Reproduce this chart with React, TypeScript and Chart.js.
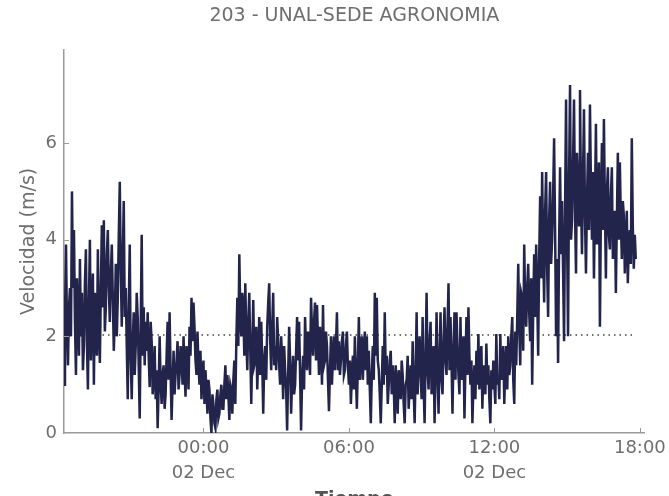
import React, { useEffect, useRef } from "react";
import { Chart, registerables } from "chart.js";

Chart.register(...registerables);

const TITLE = "203 - UNAL-SEDE AGRONOMIA";
const Y_LABEL = "Velocidad (m/s)";
const X_LABEL = "Tiempo";

// time of first sample, minutes relative to 02 Dec 00:00, and sampling step (minutes)
const START_MIN = -345;
const STEP_MIN = 2.465;

const SPEED = [
  1.0, 2.4, 3.9, 2.2, 1.4, 2.6, 3.0, 2.0, 5.0, 3.0, 4.2, 2.3, 1.2, 3.2, 2.4, 1.6, 3.6, 2.0, 2.9, 1.3,
  1.8, 3.1, 3.8, 1.9, 0.9, 2.7, 4.0, 1.5, 2.5, 3.3, 1.0, 2.9, 2.2, 1.6, 3.8, 2.2, 1.45, 3.0, 4.3, 2.6,
  4.4, 2.1, 2.6, 3.7, 4.2, 3.0, 2.3, 3.3, 3.9, 2.8, 1.7, 2.4, 3.5, 2.0, 2.8, 4.1, 5.2, 3.4, 2.2, 3.6,
  4.8, 2.4, 3.0, 1.8, 0.7, 2.6, 3.9, 1.5, 0.7, 1.9, 2.5, 1.2, 1.8, 2.9, 2.4, 1.4, 0.3, 2.2, 4.1, 1.6,
  2.6, 1.4, 2.3, 1.7, 2.5, 1.6, 0.95, 2.3, 1.9, 0.8, 1.2, 1.8, 0.7, 1.3, 0.1, 0.9, 2.0, 1.1, 0.6, 1.2,
  1.4, 0.5, 0.8, 1.6, 2.3, 1.1, 2.5, 1.3, 0.27, 1.0, 1.7, 0.8, 1.2, 1.5, 1.9, 0.9, 1.2, 1.8, 1.6, 1.0,
  2.0, 1.3, 0.75, 1.8, 1.5, 0.9, 2.2, 1.6, 2.8, 1.9, 2.7, 2.2, 1.5, 1.2, 2.1, 1.4, 1.0, 1.7, 0.7, 1.2,
  1.5, 0.6, 1.3, 0.9, 0.4, 1.1, 0.9, 0.3, 0.0, 0.8, 0.6, 0.2, 0.1, 0.7, 0.9, 0.3, 0.4, 0.8, 1.0, 0.5,
  0.5, 1.0, 1.4, 0.7, 1.2, 0.8, 0.27, 1.0, 0.9, 0.4, 1.1, 1.5, 0.6, 1.9, 2.8, 1.8, 3.7, 2.4, 2.0, 2.9,
  2.6, 1.6, 3.1, 2.0, 1.3, 2.3, 2.9, 1.7, 0.6, 1.8, 2.75, 1.4, 1.5, 2.2, 0.9, 1.6, 2.4, 1.2, 2.3, 1.5,
  0.4, 1.5, 1.8, 1.1, 2.2, 2.7, 3.1, 1.9, 1.3, 2.2, 2.9, 1.4, 1.8, 1.3, 2.4, 1.9, 1.4, 1.0, 2.0, 1.5,
  0.7, 1.8, 1.3, 0.9, 0.05, 1.2, 2.2, 1.5, 0.4, 1.1, 1.6, 0.8, 1.0, 1.7, 2.4, 1.5, 2.3, 1.2, 0.05, 1.1,
  1.6, 0.9, 2.4, 1.7, 1.3, 2.1, 1.8, 1.2, 2.8, 2.1, 1.6, 2.3, 2.7, 1.5, 2.65, 1.9, 1.2, 2.2, 1.8, 1.0,
  2.65, 1.4, 1.5, 2.1, 1.8, 1.1, 0.45, 1.3, 2.0, 1.0, 1.6, 2.0, 1.3, 1.8, 2.5, 1.3, 1.9, 1.2, 1.5, 1.9,
  2.1, 1.2, 1.3, 1.8, 2.1, 1.4, 1.0, 1.5, 0.6, 1.2, 1.6, 0.9, 2.0, 1.2, 0.5, 1.4, 2.4, 1.1, 1.6, 2.0,
  1.1, 1.7, 2.1, 1.3, 2.0, 1.0, 1.7, 0.9, 0.2, 1.2, 1.8, 1.1, 2.9, 1.6, 2.8, 1.5, 1.3, 0.8, 0.2, 1.0,
  1.8, 1.0, 2.5, 1.2, 1.6, 0.6, 1.0, 1.5, 1.7, 0.8, 1.4, 1.0, 0.2, 1.4, 0.9, 0.4, 1.3, 1.0, 0.7, 1.5,
  1.2, 0.6, 0.2, 1.0, 1.1, 1.6, 0.5, 1.0, 1.4, 0.7, 1.9, 0.9, 0.2, 1.3, 2.5, 0.8, 1.5, 2.0, 1.2, 0.7,
  2.4, 1.0, 0.2, 1.6, 2.9, 1.3, 0.9, 1.9, 2.3, 0.8, 1.4, 1.8, 0.2, 1.2, 2.5, 1.3, 0.4, 1.6, 2.5, 1.1,
  0.8, 1.9, 2.6, 1.5, 1.2, 2.2, 3.1, 1.3, 2.4, 1.5, 0.4, 1.7, 2.5, 1.1, 2.5, 1.8, 1.2, 0.8, 2.4, 1.1,
  1.5, 2.0, 0.3, 1.4, 2.4, 1.2, 2.6, 1.6, 1.0, 1.5, 0.2, 1.0, 1.4, 0.7, 1.7, 1.0, 2.05, 0.9, 1.5, 1.8,
  0.5, 1.4, 1.2, 0.8, 1.85, 1.0, 1.4, 0.7, 0.2, 1.3, 0.9, 1.5, 1.0, 0.6, 2.05, 1.0, 1.2, 0.7, 2.05, 1.1,
  1.3, 1.8, 0.6, 1.4, 1.8, 0.9, 2.0, 1.2, 1.4, 2.0, 2.4, 1.1, 0.6, 2.1, 1.4, 2.4, 3.5, 2.2, 1.4, 2.9,
  2.8, 1.7, 3.9, 2.6, 2.2, 3.0, 3.5, 2.5, 1.9, 3.2, 1.0, 2.5, 3.7, 2.4, 3.9, 2.9, 1.6, 3.6, 4.9, 3.2,
  5.4, 3.8, 2.7, 4.6, 5.4, 3.4, 2.4, 4.4, 5.2, 3.5, 4.0, 4.9, 6.1, 4.2, 2.0, 3.6, 1.45, 3.9, 5.5, 3.7,
  4.8, 3.4, 1.9, 4.6, 6.9, 4.1, 2.0, 5.2, 7.2, 4.0, 4.4, 5.6, 6.9, 4.6, 3.3, 5.8, 5.3, 4.3, 7.1, 4.9,
  3.7, 5.3, 6.7, 4.5, 3.3, 4.8, 5.8, 4.2, 6.8, 5.1, 4.0, 5.4, 3.2, 4.7, 6.4, 3.9, 4.4, 5.6, 2.2, 4.6,
  6.0, 4.2, 6.5, 4.7, 3.2, 5.0, 5.5, 4.1, 3.8, 4.9, 5.5, 3.6, 4.3, 4.6, 2.9, 4.4, 5.8, 4.0, 5.6, 4.4,
  3.6, 4.8, 4.5, 3.3, 4.0, 4.6, 3.1, 3.9, 4.2, 3.5, 6.1, 4.3, 3.4, 4.1, 3.6,
];

const REF_LEVEL = 2.03;

const X_TICKS = [0, 360, 720, 1080];
const X_TICK_LABELS: (string | string[])[] = [
  ["00:00", "02 Dec"],
  "06:00",
  ["12:00", "02 Dec"],
  "18:00",
];
const Y_TICKS = [0, 2, 4, 6];

const X_MIN = -345;
const X_MAX = 1092;
const Y_MAX = 7.93;

const FONT = "DejaVu Sans";
const TEXT = "#6e6e6e";
const SPINE = "#9a9a9a";
const LINE = "#23244c";

const innerTicks = {
  id: "innerTicks",
  afterDatasetsDraw(chart: any) {
    const { ctx, chartArea, scales } = chart;
    ctx.save();
    ctx.strokeStyle = SPINE;
    ctx.lineWidth = 1;
    const len = 5;
    X_TICKS.forEach((v) => {
      const px = Math.round(scales.x.getPixelForValue(v)) + 0.5;
      ctx.beginPath();
      ctx.moveTo(px, chartArea.bottom);
      ctx.lineTo(px, chartArea.bottom - len);
      ctx.stroke();
    });
    Y_TICKS.forEach((v) => {
      if (v === 0) return;
      const py = Math.round(scales.y.getPixelForValue(v)) + 0.5;
      ctx.beginPath();
      ctx.moveTo(chartArea.left, py);
      ctx.lineTo(chartArea.left + len, py);
      ctx.stroke();
    });
    ctx.restore();
  },
};

export default function App() {
  const ref = useRef<HTMLCanvasElement | null>(null);

  useEffect(() => {
    document.documentElement.style.overflow = "hidden";
    document.body.style.margin = "0";
    document.body.style.overflow = "hidden";
    if (!ref.current) return;
    const lastX = START_MIN + (SPEED.length - 1) * STEP_MIN;
    const chart = new Chart(ref.current, {
      type: "line",
      data: {
        datasets: [
          {
            label: "Velocidad",
            data: SPEED.map((v, i) => ({ x: START_MIN + i * STEP_MIN, y: v })),
            borderColor: LINE,
            backgroundColor: LINE,
            borderWidth: 2.5,
            pointRadius: 0,
            tension: 0,
            fill: false,
          },
          {
            label: "Referencia",
            data: [
              { x: START_MIN, y: REF_LEVEL },
              { x: lastX, y: REF_LEVEL },
            ],
            borderColor: "#444444",
            borderWidth: 1.5,
            borderDash: [1.5, 4],
            pointRadius: 0,
            fill: false,
          },
        ],
      },
      options: {
        animation: false,
        responsive: false,
        maintainAspectRatio: false,
        layout: { padding: { left: 0, right: 22, top: 0, bottom: 0 } },
        plugins: {
          legend: { display: false },
          tooltip: { enabled: false },
          title: {
            display: true,
            text: TITLE,
            fullSize: false,
            color: TEXT,
            font: { family: FONT, size: 19, weight: "normal" },
            padding: { top: 5, bottom: 22 },
          },
        },
        scales: {
          x: {
            type: "linear",
            min: X_MIN,
            max: X_MAX,
            afterBuildTicks: (s: any) => {
              s.ticks = X_TICKS.map((v) => ({ value: v }));
            },
            afterFit: (s: any) => {
              s.height = 79;
            },
            ticks: {
              autoSkip: false,
              maxRotation: 0,
              padding: 3,
              color: TEXT,
              font: { family: FONT, size: 18, lineHeight: 1.4 },
              callback: (v: any) => {
                const i = X_TICKS.indexOf(Number(v));
                return i >= 0 ? X_TICK_LABELS[i] : "";
              },
            },
            grid: { display: false, drawTicks: false },
            border: { display: true, color: SPINE, width: 1.5 },
            title: {
              display: true,
              text: X_LABEL,
              color: "#555555",
              font: { family: FONT, size: 19, weight: "bold" },
              padding: { top: 0, bottom: 1 },
            },
          },
          y: {
            type: "linear",
            min: 0,
            max: Y_MAX,
            afterBuildTicks: (s: any) => {
              s.ticks = Y_TICKS.map((v) => ({ value: v }));
            },
            afterFit: (s: any) => {
              s.width = 64;
            },
            ticks: {
              padding: 7,
              color: TEXT,
              font: { family: FONT, size: 18 },
              callback: (v: any) => String(v),
            },
            grid: { display: false, drawTicks: false },
            border: { display: true, color: SPINE, width: 1.5 },
            title: {
              display: true,
              text: Y_LABEL,
              color: TEXT,
              font: { family: FONT, size: 19, weight: "normal" },
              padding: { top: 18, bottom: 0 },
            },
          },
        },
      },
      plugins: [innerTicks],
    });
    return () => chart.destroy();
  }, []);

  return (
    <div style={{ width: 669, height: 496, overflow: "hidden" }}>
      <canvas ref={ref} width={669} height={512} style={{ display: "block" }} />
    </div>
  );
}
